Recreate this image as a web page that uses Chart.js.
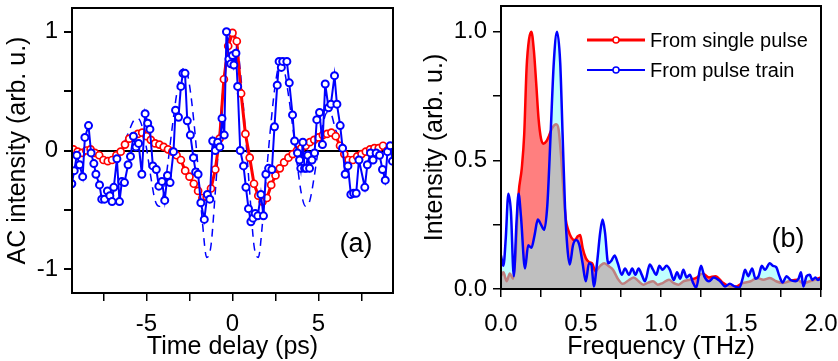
<!DOCTYPE html>
<html><head><meta charset="utf-8">
<script src="https://cdn.jsdelivr.net/npm/chart.js@4.4.1/dist/chart.umd.min.js"></script>
<style>
html,body{margin:0;padding:0;background:#fff;overflow:hidden}
#wrap{position:relative;width:838px;height:361px;background:#fff}
canvas{position:absolute;top:0}
#ca{left:0}
#cb{left:410px}
</style></head><body>
<div id="wrap"><canvas id="ca" width="410" height="361"></canvas><canvas id="cb" width="428" height="361"></canvas></div>
<script>
// ---------- Panel (a): autocorrelation ----------
const singleDelay = [-9.25,-9.0,-8.75,-8.5,-8.25,-8.0,-7.75,-7.5,-7.25,-7.0,-6.75,-6.5,-6.25,-6.0,-5.75,-5.5,-5.25,-5.0,-4.75,-4.5,-4.25,-4.0,-3.75,-3.5,-3.25,-3.0,-2.75,-2.5,-2.25,-2.0,-1.75,-1.5,-1.25,-1.0,-0.75,-0.5,-0.25,0.0,0.25,0.5,0.75,1.0,1.25,1.5,1.75,2.0,2.25,2.5,2.75,3.0,3.25,3.5,3.75,4.0,4.25,4.5,4.75,5.0,5.25,5.5,5.75,6.0,6.25,6.5,6.75,7.0,7.25,7.5,7.75,8.0,8.25,8.5,8.75,9.0,9.25];
const singleAC = [0.01,-0.01,-0.02,0.0,0.01,-0.02,-0.04,-0.08,-0.09,-0.08,-0.04,-0.01,0.05,0.10,0.12,0.14,0.15,0.12,0.09,0.06,0.05,0.03,0.01,-0.01,-0.04,-0.08,-0.17,-0.22,-0.28,-0.34,-0.40,-0.39,-0.32,-0.16,0.10,0.60,0.88,0.99,0.92,0.48,0.14,-0.06,-0.28,-0.38,-0.43,-0.40,-0.29,-0.21,-0.15,-0.10,-0.06,-0.03,0.0,0.02,0.04,0.07,0.09,0.11,0.13,0.14,0.15,0.12,0.04,-0.03,-0.08,-0.08,-0.05,-0.03,-0.01,0.01,0.02,0.02,0.04,0.0,0.01];

const trainDelay = [-9.34,-9.2,-9.05,-8.89,-8.71,-8.58,-8.37,-8.22,-8.06,-7.94,-7.73,-7.6,-7.44,-7.27,-7.13,-7.0,-6.9,-6.72,-6.57,-6.43,-6.28,-6.07,-5.93,-5.76,-5.61,-5.46,-5.27,-5.08,-4.93,-4.8,-4.63,-4.43,-4.28,-4.1,-3.94,-3.78,-3.63,-3.43,-3.31,-3.14,-3.0,-2.88,-2.76,-2.63,-2.45,-2.27,-2.14,-2.0,-1.84,-1.64,-1.46,-1.32,-1.15,-1.0,-0.86,-0.74,-0.61,-0.48,-0.35,-0.21,-0.1,0.0,0.08,0.2,0.3,0.45,0.64,0.78,0.93,1.07,1.19,1.32,1.47,1.65,1.8,1.94,2.1,2.29,2.44,2.6,2.71,2.84,2.92,3.16,3.3,3.49,3.61,3.78,3.9,3.97,4.09,4.19,4.28,4.38,4.48,4.62,4.77,4.9,5.06,5.23,5.39,5.58,5.72,5.93,6.07,6.26,6.4,6.55,6.71,6.88,7.04,7.19,7.35,7.69,7.84,8.02,8.17,8.35,8.55,8.72,8.88,9.01,9.17,9.3];
const trainAC = [-0.28,-0.17,-0.04,-0.12,-0.22,0.11,0.21,-0.02,-0.11,-0.2,-0.29,-0.41,-0.41,-0.34,-0.38,-0.43,-0.31,-0.07,-0.43,-0.26,-0.27,-0.12,-0.05,0.12,0.03,0.06,-0.2,0.31,0.23,0.18,-0.13,-0.16,-0.3,-0.26,-0.42,-0.21,-0.27,-0.01,0.34,0.28,0.54,0.65,0.65,0.25,0.13,-0.06,-0.18,-0.2,-0.44,-0.58,-0.37,-0.41,0.08,0.0,0.07,0.03,0.27,0.13,1.0,0.77,0.73,0.8,0.72,0.82,0.54,0.0,-0.13,-0.31,-0.49,-0.6,-0.57,-0.53,-0.55,-0.37,-0.55,-0.2,-0.15,-0.16,0.2,0.55,0.75,0.7,0.75,0.75,0.57,0.3,0.08,-0.02,-0.08,-0.15,0.07,-0.15,-0.15,-0.04,-0.15,-0.08,-0.02,0.26,0.32,0.05,0.56,0.36,0.39,0.63,0.39,0.21,0.02,-0.2,-0.13,-0.37,-0.36,-0.36,-0.08,-0.31,-0.12,-0.02,-0.08,-0.02,-0.04,-0.16,-0.25,-0.01,0.04,-0.09];

const simDelay = [-6.25,-6.0,-5.75,-5.5,-5.25,-5.0,-4.75,-4.5,-4.25,-4.0,-3.75,-3.5,-3.25,-3.0,-2.75,-2.5,-2.25,-2.0,-1.75,-1.5,-1.25,-1.0,-0.75,-0.5,-0.25,0.0,0.25,0.5,0.75,1.0,1.25,1.5,1.75,2.0,2.25,2.5,2.75,3.0,3.25,3.5,3.75,4.0,4.25,4.5,4.75,5.0,5.25,5.5,5.75,6.0,6.25];
const simAC = [0.08,0.17,0.25,0.27,0.2,0.02,-0.22,-0.42,-0.47,-0.36,-0.1,0.2,0.47,0.65,0.7,0.55,0.25,-0.15,-0.6,-0.9,-0.8,-0.35,0.15,0.6,0.92,1.0,0.92,0.6,0.15,-0.35,-0.8,-0.9,-0.6,-0.15,0.25,0.57,0.73,0.68,0.47,0.2,-0.1,-0.36,-0.47,-0.42,-0.22,0.02,0.22,0.32,0.3,0.17,0.1];

// ---------- Panel (b): spectra ----------
const freqSingle = [0.0,0.015,0.035,0.055,0.075,0.09,0.11,0.13,0.145,0.16,0.175,0.19,0.205,0.22,0.235,0.25,0.265,0.285,0.3,0.32,0.345,0.36,0.375,0.39,0.405,0.42,0.44,0.46,0.48,0.495,0.51,0.53,0.55,0.57,0.59,0.62,0.645,0.67,0.7,0.73,0.76,0.8,0.83,0.86,0.89,0.92,0.95,0.98,1.01,1.05,1.08,1.11,1.14,1.18,1.22,1.26,1.3,1.34,1.39,1.43,1.47,1.51,1.56,1.6,1.64,1.68,1.72,1.76,1.8,1.85,1.89,1.93,1.96,2.0];
const specSingle = [0.05,0.065,0.03,0.06,0.04,0.12,0.37,0.47,0.6,0.86,0.97,1.0,0.93,0.8,0.66,0.585,0.565,0.575,0.595,0.625,0.64,0.62,0.52,0.38,0.27,0.23,0.2,0.19,0.205,0.21,0.16,0.12,0.105,0.1,0.07,0.09,0.1,0.09,0.075,0.04,0.02,0.035,0.045,0.03,0.017,0.025,0.03,0.017,0.023,0.036,0.023,0.017,0.03,0.036,0.043,0.06,0.045,0.05,0.023,0.01,0.01,0.023,0.03,0.043,0.036,0.043,0.03,0.023,0.03,0.036,0.023,0.03,0.036,0.045];

const freqTrain = [0.0,0.015,0.03,0.046,0.062,0.08,0.097,0.11,0.125,0.15,0.17,0.19,0.21,0.23,0.25,0.27,0.29,0.31,0.33,0.35,0.37,0.385,0.4,0.415,0.43,0.45,0.47,0.49,0.51,0.53,0.55,0.565,0.58,0.6,0.62,0.635,0.65,0.67,0.69,0.71,0.73,0.755,0.775,0.8,0.82,0.84,0.86,0.88,0.9,0.93,0.95,0.97,0.99,1.01,1.035,1.055,1.08,1.1,1.12,1.14,1.16,1.18,1.2,1.22,1.25,1.27,1.3,1.33,1.37,1.4,1.43,1.46,1.49,1.51,1.525,1.545,1.57,1.59,1.61,1.63,1.65,1.68,1.7,1.72,1.74,1.76,1.785,1.81,1.84,1.86,1.875,1.89,1.91,1.93,1.945,1.965,1.98,2.0];
const specTrain = [0.13,0.09,0.2,0.37,0.3,0.05,0.26,0.37,0.28,0.08,0.17,0.16,0.21,0.27,0.25,0.23,0.33,0.6,0.88,1.0,0.88,0.6,0.32,0.16,0.095,0.17,0.19,0.17,0.1,0.03,0.1,0.095,0.01,0.1,0.22,0.27,0.22,0.1,0.11,0.13,0.1,0.055,0.08,0.055,0.08,0.055,0.08,0.055,0.03,0.095,0.075,0.055,0.09,0.075,0.09,0.075,0.035,0.065,0.04,0.075,0.045,0.055,0.025,0.005,0.09,0.05,0.03,0.045,0.03,0.01,0.02,0.01,0.005,0.04,0.075,0.05,0.08,0.04,0.05,0.09,0.075,0.1,0.09,0.085,0.05,0.025,0.05,0.035,0.03,0.04,0.065,0.01,0.05,0.055,0.035,0.045,0.035,0.043];

const legendNames = ['From single pulse', 'From pulse train'];
const panelLabels = ['(a)', '(b)'];
const titles = {aX: 'Time delay (ps)', aY: 'AC intensity (arb. u.)', bX: 'Frequency (THz)', bY: 'Intensity (arb. u.)'};

const pts = (xs, ys) => xs.map((x, i) => ({x: x, y: ys[i]}));
const FONT = "'Liberation Sans', Arial, sans-serif";
const RED = '#ff0000', BLUE = '#0000ff';

function frameAndText(label, lx, ly, legend) {
  return {
    id: 'frame',
    afterDraw(chart) {
      const {ctx, chartArea: a} = chart;
      ctx.save();
      ctx.strokeStyle = '#000';
      ctx.lineWidth = 2;
      ctx.strokeRect(a.left, a.top, a.right - a.left, a.bottom - a.top);
      ctx.fillStyle = '#000';
      ctx.font = '27px ' + FONT;
      ctx.textAlign = 'center';
      ctx.textBaseline = 'middle';
      ctx.fillText(label, lx, ly);
      if (legend) {
        const items = [[RED, 3, legendNames[0], 40], [BLUE, 2, legendNames[1], 70]];
        ctx.font = '20px ' + FONT;
        ctx.textAlign = 'left';
        items.forEach(([c, w, t, y]) => {
          ctx.strokeStyle = c; ctx.lineWidth = w;
          ctx.beginPath(); ctx.moveTo(177, y); ctx.lineTo(235, y); ctx.stroke();
          ctx.beginPath(); ctx.arc(206, y, 3, 0, Math.PI * 2);
          ctx.fillStyle = '#fff'; ctx.fill(); ctx.lineWidth = 1.5; ctx.stroke();
          ctx.fillStyle = '#000';
          ctx.fillText(t, 240, y + 1);
        });
      }
      ctx.restore();
    }
  };
}

const titleFont = {family: FONT, size: 25, lineHeight: 1.1};
const fitX = h => s => { s.height = h; s.paddingLeft = 0; s.paddingRight = 0; };
const fitY = w => s => { s.width = w; s.paddingTop = 0; s.paddingBottom = 0; };

Chart.defaults.font.family = FONT;
Chart.defaults.color = '#000';

new Chart(document.getElementById('ca'), {
  type: 'line',
  data: {
    datasets: [
      {data: pts(trainDelay, trainAC), borderColor: BLUE, borderWidth: 2, pointRadius: 3.5, pointBorderWidth: 2,
       pointBackgroundColor: '#fff', pointBorderColor: BLUE, tension: 0, fill: false},
      {data: pts(singleDelay, singleAC), borderColor: RED, borderWidth: 3, pointRadius: 3.5, pointBorderWidth: 1.7,
       pointBackgroundColor: '#fff', pointBorderColor: RED, tension: 0, fill: false},
      {data: pts(simDelay, simAC), borderColor: BLUE, borderWidth: 1.5, borderDash: [8, 6], pointRadius: 0,
       cubicInterpolationMode: 'monotone', fill: false}
    ]
  },
  options: {
    responsive: false, animation: false, devicePixelRatio: 1,
    layout: {padding: {left: 0, top: 8, right: 17, bottom: 0}},
    plugins: {legend: {display: false}, tooltip: {enabled: false}},
    scales: {
      x: {
        type: 'linear', min: -9.33, max: 9.33, border: {display: false},
        afterFit: fitX(68),
        grid: {drawOnChartArea: false, tickLength: 8, tickColor: '#000', lineWidth: 1.5},
        ticks: {stepSize: 2.5, includeBounds: false, autoSkip: false, maxRotation: 0, padding: 9,
                font: {size: 24}, color: '#000',
                callback: v => (Math.abs(v % 5) < 1e-9 ? String(v) : '')},
        title: {display: true, text: titles.aX, color: '#000', font: titleFont, padding: {top: 0, bottom: 0}}
      },
      y: {
        type: 'linear', min: -1.2, max: 1.2, border: {display: false},
        afterFit: fitY(72),
        grid: {drawOnChartArea: true, tickLength: 8, tickColor: '#000', lineWidth: 2,
               color: c => (c.tick && c.tick.value === 0 ? '#000' : 'rgba(0,0,0,0)')},
        ticks: {stepSize: 0.5, includeBounds: false, autoSkip: false, padding: 6,
                font: {size: 24}, color: '#000',
                callback: v => (Math.abs(v % 1) < 1e-9 ? String(v) : '')},
        title: {display: true, text: titles.aY, color: '#000', font: titleFont, padding: {top: 4, bottom: 0}}
      }
    }
  },
  plugins: [frameAndText(panelLabels[0], 356, 245, false)]
});

new Chart(document.getElementById('cb'), {
  type: 'line',
  data: {
    datasets: [
      {label: legendNames[0], data: pts(freqSingle, specSingle), order: 1, borderColor: RED, borderWidth: 2.5,
       backgroundColor: 'rgba(255,0,0,0.5)', fill: 'origin', pointRadius: 0, cubicInterpolationMode: 'monotone'},
      {label: legendNames[1], data: pts(freqTrain, specTrain), order: 0, borderColor: BLUE, borderWidth: 2.5,
       backgroundColor: 'rgba(128,255,255,0.5)', fill: 'origin', pointRadius: 0, cubicInterpolationMode: 'monotone'}
    ]
  },
  options: {
    responsive: false, animation: false, devicePixelRatio: 1,
    layout: {padding: {left: 0, top: 6, right: 17, bottom: 0}},
    plugins: {legend: {display: false}, tooltip: {enabled: false}},
    scales: {
      x: {
        type: 'linear', min: 0, max: 2, border: {display: false},
        afterFit: fitX(72),
        grid: {drawOnChartArea: false, tickLength: 8, tickColor: '#000', lineWidth: 1.5},
        ticks: {stepSize: 0.25, autoSkip: false, maxRotation: 0, padding: 13, font: {size: 24}, color: '#000',
                callback: v => (Math.abs((v * 2) % 1) < 1e-9 ? v.toFixed(1) : '')},
        title: {display: true, text: titles.bX, color: '#000', font: titleFont, padding: {top: 0, bottom: 0}}
      },
      y: {
        type: 'linear', min: 0, max: 1.1, border: {display: false},
        afterFit: fitY(91),
        grid: {drawOnChartArea: false, tickLength: 8, tickColor: '#000', lineWidth: 1.5},
        ticks: {stepSize: 0.25, includeBounds: false, autoSkip: false, padding: 6, font: {size: 24}, color: '#000',
                callback: v => (Math.abs((v * 2) % 1) < 1e-9 ? v.toFixed(1) : '')},
        title: {display: true, text: titles.bY, color: '#000', font: titleFont, padding: {top: 11, bottom: 0}}
      }
    }
  },
  plugins: [frameAndText(panelLabels[1], 378, 240, true)]
});
</script>
</body></html>
